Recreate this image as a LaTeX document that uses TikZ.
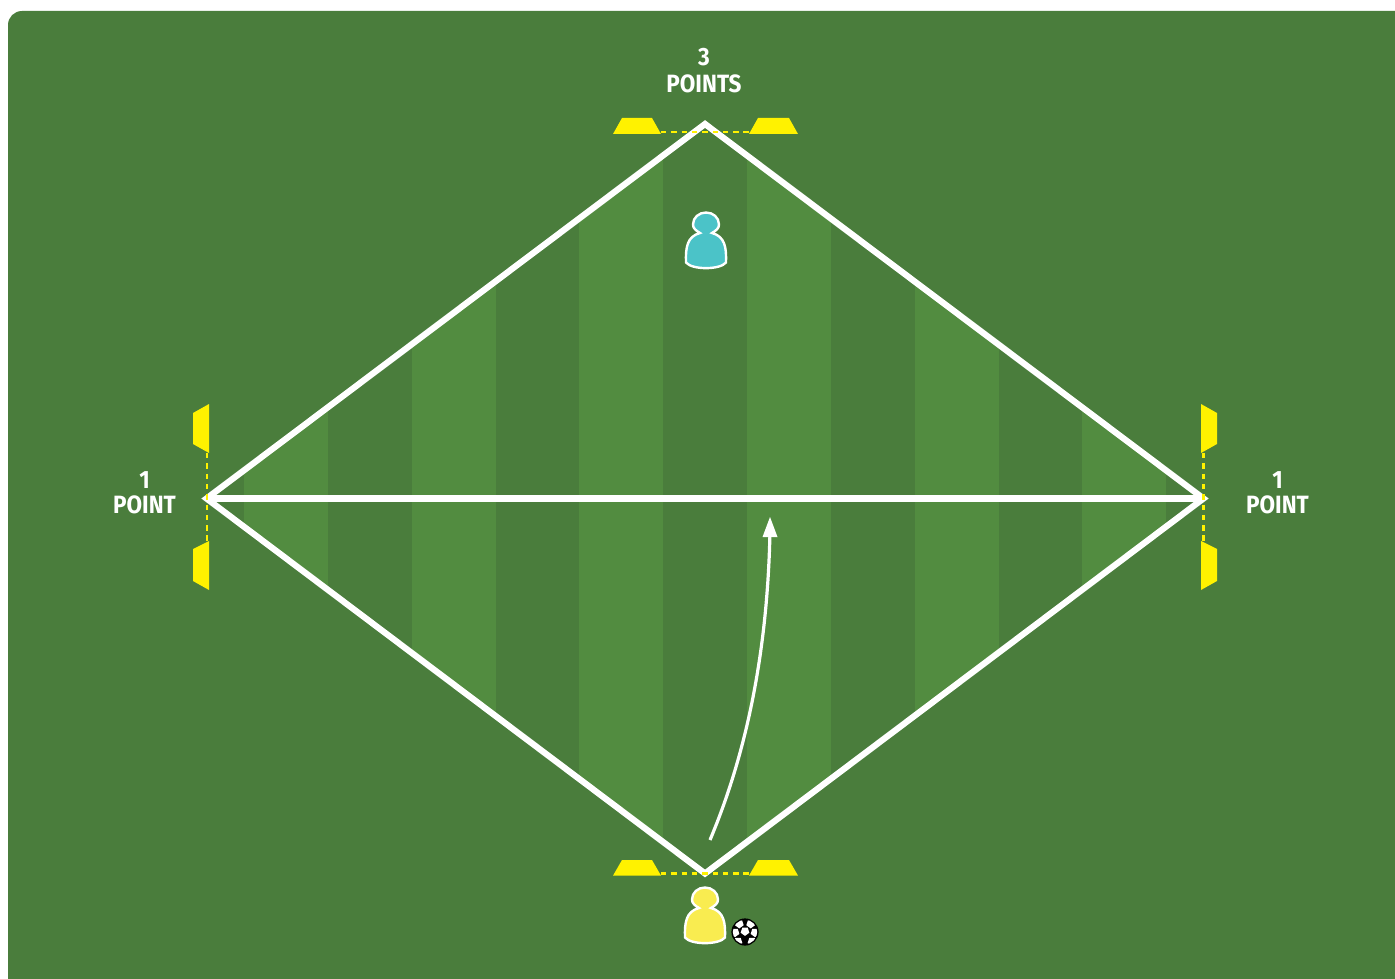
\documentclass[tikz,border=0pt]{standalone}
\usepackage{fontspec}
\setmainfont{Fira Sans}
\newfontfamily\labfont[FakeStretch=0.9]{Fira Sans}
\definecolor{pitch}{RGB}{74,125,60}
\definecolor{stripe}{RGB}{82,140,64}
\definecolor{cone}{RGB}{255,242,0}
\definecolor{tealp}{RGB}{75,195,200}
\definecolor{yellowp}{RGB}{249,236,80}
\tikzset{
  pitchline/.style={draw=white,line width=6.2pt,miter limit=10},
  conefill/.style={fill=cone,draw=none},
  gate/.style={draw=cone,line width=2.8pt,dash pattern=on 5.4pt off 4.9pt},
  label/.style={text=white,font=\labfont\fontsize{25}{27}\selectfont\bfseries,align=center,inner sep=0pt},
  person/.pic={
    \path[fill=#1,draw=white,line width=2.4pt]
      (-20,37) .. controls (-20.5,22) and (-19,11) .. (-6,7.5)
      .. controls (-10,5) and (-13,3) .. (-13,-1)
      .. controls (-13,-8) and (-7,-13) .. (0,-13)
      .. controls (7,-13) and (13,-8) .. (13,-1)
      .. controls (13,3) and (10,5) .. (6,7.5)
      .. controls (19,11) and (20.5,22) .. (20,37)
      .. controls (14,44.5) and (-14,44.5) .. (-20,37) -- cycle;
  },
  patch/.pic={
    \fill[white] (90:4.6) -- (162:4.6) -- (234:4.6) -- (306:4.6) -- (18:4.6) -- cycle;
  }
}
\begin{document}
\begin{tikzpicture}[x=1pt,y=-1pt]
\useasboundingbox (0,0) rectangle (1395,979);
\fill[white] (0,0) rectangle (1395,979);
\fill[pitch,rounded corners=14pt] (8,11) rectangle (1410,1000);
\coordinate (T) at (705,124);
\coordinate (B) at (705,873.5);
\coordinate (L) at (206.5,498.5);
\coordinate (R) at (1203.5,498.5);
\begin{scope}
  \clip (T) -- (R) -- (B) -- (L) -- cycle;
  \foreach \xa/\xb in {244/328,412/496,579/663,747/831,915/999,1082/1166}
    \fill[stripe] (\xa,100) rectangle (\xb,900);
\end{scope}
\draw[pitchline] (T) -- (R) -- (B) -- (L) -- cycle;
\draw[pitchline] (L) -- (R);
% cones
\fill[conefill] (613,134) -- (622,118) -- (652,118) -- (661,134) -- cycle;
\fill[conefill] (749,134) -- (758,118) -- (789,118) -- (798,134) -- cycle;
\fill[conefill] (613,875.6) -- (622,860) -- (652,860) -- (661,875.6) -- cycle;
\fill[conefill] (749,875.6) -- (758,860) -- (789,860) -- (798,875.6) -- cycle;
\fill[conefill] (209,404) -- (193,413) -- (193,444) -- (209,453) -- cycle;
\fill[conefill] (209,541) -- (193,549) -- (193,581) -- (209,590) -- cycle;
\fill[conefill] (1201,404) -- (1217,413) -- (1217,444) -- (1201,453) -- cycle;
\fill[conefill] (1201,541) -- (1217,549) -- (1217,581) -- (1201,590) -- cycle;
\coordinate (gt1) at (661,132); \coordinate (gt2) at (749,132);
\coordinate (gb1) at (661,873.8); \coordinate (gb2) at (749,873.8);
\coordinate (gl1) at (207,453); \coordinate (gl2) at (207,541);
\coordinate (gr1) at (1203.5,453); \coordinate (gr2) at (1203.5,541);
\draw[gate] (gt1) -- (gt2);
\draw[gate] (gb1) -- (gb2);
\draw[gate] (gl1) -- (gl2);
\draw[gate] (gr1) -- (gr2);
% run arrow
\coordinate (runA) at (710,840);
\coordinate (runB) at (770,530);
\coordinate (runTip) at (770,517);
\draw[white,line width=3.2pt] (runA) .. controls (750,745) and (768,640) .. (runB);
\fill[white] (runTip) -- (777.5,537) -- (762.5,537) -- cycle;
% players
\pic at (706,225.5) {person=tealp};
\pic at (705,900.5) {person=yellowp};
% ball
\begin{scope}[shift={(745,932)}]
  \fill[black] (0,0) circle (13.6);
  \begin{scope}
    \clip (0,0) circle (12.2);
    \pic at (0,-0.7) {patch};
    \pic at (-5.7,-8.2) {patch};
    \pic at (5.7,-8.2) {patch};
    \pic at (-10,0.5) {patch};
    \pic at (10,0.5) {patch};
    \pic at (-7,9.6) {patch};
    \pic at (7,9.6) {patch};
  \end{scope}
\end{scope}
% labels
\node[label] (lt) at (704,70.5) {3\\POINTS};
\node[label] (ll) at (144.5,493) {1\\[-2pt]POINT};
\node[label] (lr) at (1277.5,493) {1\\[-2pt]POINT};
\end{tikzpicture}
\end{document}
